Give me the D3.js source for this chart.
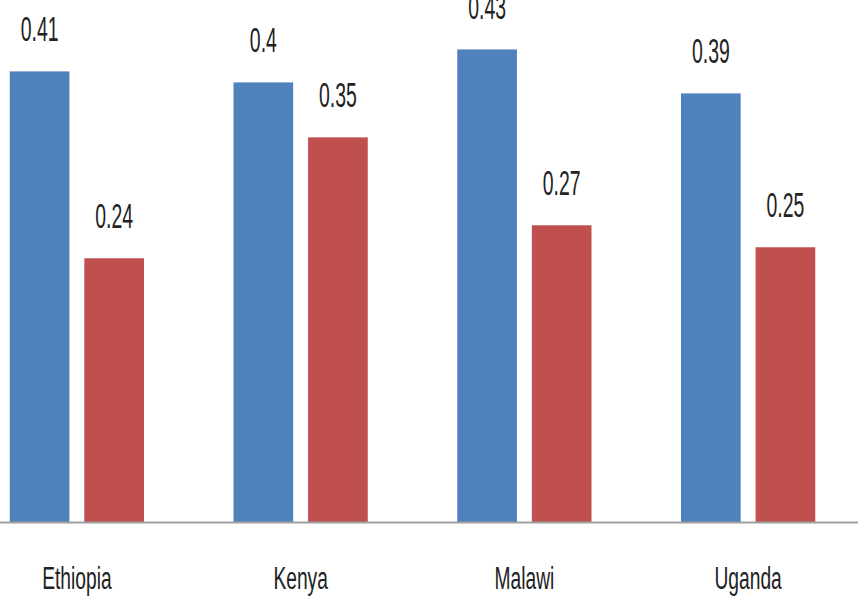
<!DOCTYPE html>
<html>
<head>
<meta charset="utf-8">
<script src="https://cdn.jsdelivr.net/npm/d3@7"></script>
<style>
  body { margin: 0; background: #fff; }
  svg { display: block; }
</style>
</head>
<body>
<svg id="chart"></svg>
<script>
// chart values
const countries = ["Ethiopia", "Kenya", "Malawi", "Uganda"];
const seriesNames = ["first", "second"];
const firstValues = [0.41, 0.40, 0.43, 0.39];
const secondValues = [0.24, 0.35, 0.27, 0.25];
const seriesColors = ["#4F81BD", "#C0504D"];

const width = 858, height = 600;
const baseY = 522;

const svg = d3.select("#chart")
    .attr("width", width)
    .attr("height", height)
    .attr("viewBox", [0, 0, width, height]);

// group scale - plot area runs a bit past both edges like the picture
const x0 = d3.scaleBand().domain(countries).range([-35, 860]).paddingInner(0.4).paddingOuter(0.2);
const x1 = d3.scaleBand().domain(seriesNames).range([0, x0.bandwidth()]).paddingInner(0.2);
const y = d3.scaleLinear().domain([0, 0.5]).range([baseY, baseY - 0.5 * 1099]);

// bars + labels
const rows = countries.map((c, i) => ({
    country: c,
    vals: [firstValues[i], secondValues[i]]
}));

const groups = svg.selectAll("g.group")
    .data(rows)
    .join("g")
    .attr("class", "group")
    .attr("transform", d => `translate(${x0(d.country)},0)`);

groups.selectAll("rect")
    .data(d => d.vals.map((v, j) => ({ key: seriesNames[j], v: v, j: j })))
    .join("rect")
    .attr("x", d => x1(d.key))
    .attr("y", d => y(d.v))
    .attr("width", x1.bandwidth())
    .attr("height", d => y(0) - y(d.v))
    .attr("fill", d => seriesColors[d.j]);

groups.selectAll("g.lbl")
    .data(d => d.vals.map((v, j) => ({ key: seriesNames[j], v: v, j: j })))
    .join("g")
    .attr("class", "lbl")
    .attr("transform", d => `translate(${x1(d.key) + x1.bandwidth() / 2},${y(d.v) - 30})`)
    .append("text")
    .attr("text-anchor", "middle")
    .attr("transform", "scale(0.54,1)")
    .attr("font-family", "Liberation Sans, Arial, sans-serif")
    .attr("font-size", 36)
    .attr("fill", "#222")
    .text(d => String(d.v));

// x axis
const xAxis = svg.append("g")
    .attr("transform", `translate(0,${baseY})`)
    .call(d3.axisBottom(x0).tickSize(0).tickSizeOuter(0).tickPadding(0));

xAxis.select(".domain")
    .attr("stroke", "#a0a0a0")
    .attr("stroke-width", 2);

xAxis.selectAll(".tick text")
    .attr("dy", null)
    .attr("y", 67)
    .attr("transform", "scale(0.62,1)")
    .attr("font-family", "Liberation Sans, Arial, sans-serif")
    .attr("font-size", 31)
    .attr("fill", "#222");
</script>
</body>
</html>
